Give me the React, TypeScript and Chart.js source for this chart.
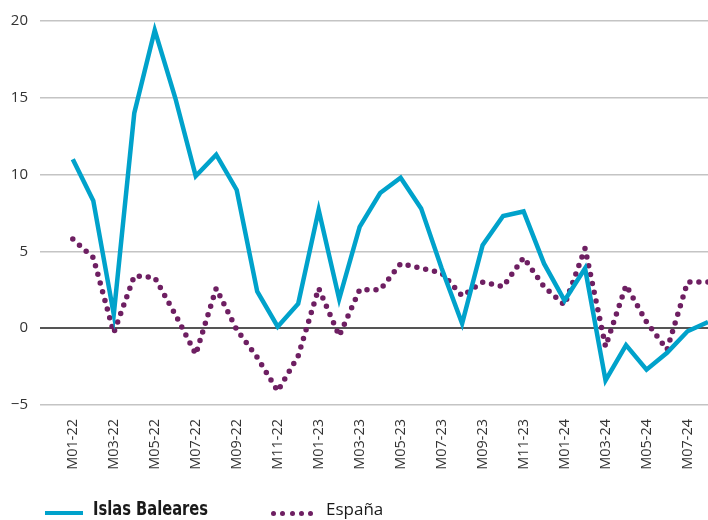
import React, { useEffect, useRef } from "react";
import { Chart, registerables } from "chart.js";

Chart.register(...registerables);

const categories = [
  "M01-22", "M02-22", "M03-22", "M04-22", "M05-22", "M06-22", "M07-22", "M08-22",
  "M09-22", "M10-22", "M11-22", "M12-22", "M01-23", "M02-23", "M03-23", "M04-23",
  "M05-23", "M06-23", "M07-23", "M08-23", "M09-23", "M10-23", "M11-23", "M12-23",
  "M01-24", "M02-24", "M03-24", "M04-24", "M05-24", "M06-24", "M07-24", "M08-24",
];

const islasBaleares = [
  11.0, 8.3, 0.9, 14.0, 19.4, 15.0, 9.9, 11.3,
  9.0, 2.4, 0.1, 1.6, 7.7, 1.9, 6.6, 8.8,
  9.8, 7.8, 3.9, 0.3, 5.4, 7.3, 7.6, 4.2,
  1.8, 3.9, -3.4, -1.1, -2.7, -1.6, -0.2, 0.4,
];

const espana = [
  5.8, 4.6, -0.3, 3.4, 3.3, 0.9, -1.7, 2.6,
  -0.1, -1.9, -4.1, -1.8, 2.6, -0.5, 2.5, 2.5,
  4.2, 3.9, 3.6, 2.1, 3.0, 2.7, 4.6, 2.7,
  1.5, 5.2, -1.2, 2.8, 0.4, -1.4, 3.0, 3.0,
];

const yTicks = [-5, 0, 5, 10, 15, 20];
const seriesNames = ["Islas Baleares", "España"];

const BLUE = "#00a2cb";
const PURPLE = "#6e1f62";
const FONT = "'Open Sans', 'Noto Sans', sans-serif";

export default function App() {
  const canvasRef = useRef<HTMLCanvasElement | null>(null);

  useEffect(() => {
    if (!canvasRef.current) return;
    const chart = new Chart(canvasRef.current, {
      type: "line",
      data: {
        datasets: [
          {
            label: seriesNames[0],
            data: islasBaleares.map((v, i) => ({ x: i, y: v })),
            borderColor: BLUE,
            backgroundColor: BLUE,
            borderWidth: 4.5,
            borderJoinStyle: "miter",
            pointRadius: 0,
            tension: 0,
          },
          {
            label: seriesNames[1],
            data: espana.map((v, i) => ({ x: i, y: v })),
            borderColor: PURPLE,
            backgroundColor: PURPLE,
            borderWidth: 5.5,
            borderDash: [0, 9],
            borderCapStyle: "round",
            pointRadius: 0,
            tension: 0,
          },
        ],
      },
      options: {
        responsive: false,
        animation: false,
        devicePixelRatio: 1,
        layout: { padding: { top: 21, left: 0, right: 0, bottom: 0 } },
        plugins: { legend: { display: false }, tooltip: { enabled: false } },
        scales: {
          x: {
            type: "linear",
            min: -1.6,
            max: 31,
            afterBuildTicks: (scale: any) => {
              scale.ticks = categories
                .map((_, i) => i)
                .filter((i) => i % 2 === 0)
                .map((i) => ({ value: i }));
            },
            afterFit: (scale: any) => {
              scale.height = 115;
              scale.paddingLeft = 0;
              scale.paddingRight = 0;
            },
            grid: { display: false, drawTicks: false },
            border: { display: false },
            ticks: {
              autoSkip: false,
              minRotation: 90,
              maxRotation: 90,
              padding: 14,
              color: "#333333",
              font: { family: FONT, size: 14.5 },
              callback: (v: any) => categories[v as number] ?? "",
            },
          },
          y: {
            min: -5,
            max: 20,
            afterBuildTicks: (scale: any) => {
              scale.ticks = yTicks.map((v) => ({ value: v }));
            },
            afterFit: (scale: any) => {
              scale.width = 40;
            },
            grid: {
              drawTicks: false,
              color: (ctx: any) => (ctx.tick && ctx.tick.value === 0 ? "#555555" : "#c4c4c4"),
              lineWidth: (ctx: any) => (ctx.tick && ctx.tick.value === 0 ? 2 : 1.5),
            },
            border: { display: false },
            ticks: {
              padding: 12,
              color: "#333333",
              font: { family: FONT, size: 15 },
              callback: (v: any) => String(v).replace("-", "\u2212"),
            },
          },
        },
      },
    });
    return () => chart.destroy();
  }, []);

  const dots = [0, 1, 2, 3, 4];

  return (
    <div style={{ position: "fixed", left: 0, top: 0, width: 708, height: 520, background: "#fff" }}>
      <canvas ref={canvasRef} width={708} height={520} style={{ display: "block" }} />
      <div
        style={{
          position: "absolute",
          left: 45,
          top: 511,
          width: 38,
          height: 4,
          background: BLUE,
        }}
      />
      <div
        style={{
          position: "absolute",
          left: 93,
          top: 496,
          fontFamily: "'Liberation Sans Narrow', 'DejaVu Sans Condensed', sans-serif",
          fontWeight: 700,
          fontSize: 19,
          lineHeight: "24px",
          color: "#1a1a1a",
          whiteSpace: "nowrap",
          transform: "scaleX(0.86)",
          transformOrigin: "left center",
        }}
      >
        {seriesNames[0]}
      </div>
      {dots.map((d) => (
        <div
          key={d}
          style={{
            position: "absolute",
            left: 271 + d * 9.3,
            top: 511,
            width: 5,
            height: 5,
            borderRadius: "50%",
            background: PURPLE,
          }}
        />
      ))}
      <div
        style={{
          position: "absolute",
          left: 326,
          top: 497,
          fontFamily: FONT,
          fontSize: 17,
          lineHeight: "24px",
          color: "#1a1a1a",
          whiteSpace: "nowrap",
        }}
      >
        {seriesNames[1]}
      </div>
    </div>
  );
}
